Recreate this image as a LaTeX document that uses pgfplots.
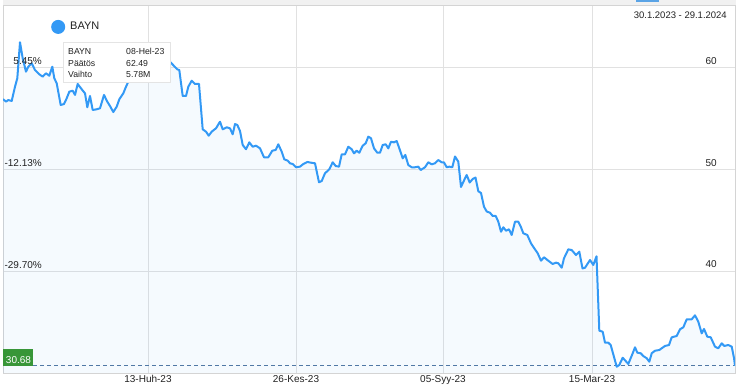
\documentclass[border=0pt]{standalone}
\usepackage{fontspec}
\setmainfont{Liberation Sans}
\usepackage{pgfplots}
\usepackage{pgfplotstable}
\pgfplotsset{compat=1.18}
\definecolor{bline}{RGB}{51,153,245}
\definecolor{gridc}{RGB}{225,225,225}
\definecolor{bordc}{RGB}{212,212,212}
\definecolor{gbox}{RGB}{56,150,56}
\definecolor{dashc}{RGB}{80,120,165}
\definecolor{txt}{RGB}{34,34,34}
\definecolor{topstrip}{RGB}{241,241,241}
\definecolor{tab}{RGB}{91,164,230}

\pgfplotstableread{
x price
3 56.90
6 56.65
8.3 56.81
11.7 56.72
15 58.12
17.3 58.95
20 62.49
22.7 60.91
26 59.60
28.3 60.09
31.7 60.42
35 59.76
39.3 59.34
42.7 59.11
46 59.44
49.3 59.20
52.3 60.09
54.3 58.95
56.7 58.46
60.7 56.32
64 56.42
66.7 56.98
69.3 57.63
72.7 57.73
75 57.31
77.7 58.39
81.7 57.87
85 57.47
87.3 56.10
90 57.21
92.7 55.83
96.7 55.90
100 56.00
104 57.31
107.3 56.65
110 56.22
113.3 55.63
116.7 56.16
119.3 56.88
123.3 57.47
126 58.12
130 58.98
135 59.57
140 59.96
145 60.35
150 60.65
155 60.45
160 60.94
165 60.75
170 60.58
174 60.16
177.3 59.83
179.3 59.76
182.7 57.21
186 57.21
188.3 58.12
191.7 58.71
195 58.39
199 58.39
202.7 53.93
206 53.70
208.7 53.30
211.7 53.70
216 54.03
220 54.68
222.7 53.93
226.7 54.13
230 54.03
232.7 53.44
235 54.45
237.3 54.36
240 53.77
242.7 52.39
246 51.97
249.3 52.65
252.7 52.22
256 52.32
260 52.06
264 51.18
268.3 51.18
272.3 51.83
275.7 51.90
278.3 52.46
281.7 51.73
284.3 50.98
287.7 50.85
290 50.59
292.7 50.52
296 50.20
300 50.26
303.3 50.52
307.3 50.72
311 50.65
315 50.59
319 48.72
321.7 48.85
325 49.61
329.3 50.00
332.7 50.69
335.7 50.32
339 50.26
341.7 51.47
345 51.47
348.3 52.22
351.7 51.97
354 51.57
356.7 51.83
359.3 51.63
362.7 52.32
365.7 52.56
368.3 53.21
371 53.05
374 52.06
377.3 51.63
380 51.63
382.7 52.39
385.7 52.46
388.3 52.06
391 52.71
394 52.65
396.7 52.78
399.3 52.06
402.7 51.08
405.3 51.41
408.3 50.42
411.7 50.20
415 50.20
418.3 50.26
420.7 49.93
425 50.20
428.3 50.69
431.7 50.49
435 50.59
438.3 50.91
441.7 50.69
444 50.67
446.7 50.20
449.3 50.26
452.3 50.20
455 51.26
458.3 50.75
461 48.26
464 48.90
466.7 49.44
469.7 48.70
472.7 49.05
475.5 49.19
478.3 47.84
481 47.67
484 46.32
486.7 45.85
490 45.73
492.7 45.41
495.7 45.41
498.3 44.85
501 43.86
503.3 44.30
506 43.96
509 44.10
511.7 43.54
515 44.85
518.3 44.85
521 44.30
523.3 43.71
527.3 43.54
531 42.72
534.3 42.23
537.7 41.74
541 41.01
544 41.35
548.3 41.01
552.7 40.69
556 40.82
558.3 40.76
561.7 40.32
564 41.25
568.3 42.13
571.7 42.06
576 41.57
579.3 41.90
582.5 40.25
585 40.32
590 41.08
593.3 40.59
596.5 41.45
599.3 34.13
602.7 34.03
605 32.95
608.3 32.95
610.7 32.72
616.7 30.59
619.3 30.76
622.7 31.47
628.3 30.86
632.7 31.91
635 32.50
637.3 31.97
640.7 31.91
643.3 31.64
646.7 31.42
649.3 31.08
651.7 31.91
655 32.16
659.3 32.23
661.7 32.40
665 32.63
669 32.72
671.7 33.48
676.7 33.61
680 34.27
683.3 34.46
686.7 35.25
691.7 35.25
695 35.64
698.3 35.01
701.7 33.87
704 34.30
707.3 33.54
710.7 33.48
715 32.56
718.3 32.40
721.7 32.89
724.3 32.63
728.3 32.72
731.7 32.56
734 31.45
735 30.68
}\bayn

\begin{document}
\begin{tikzpicture}
\useasboundingbox (-3bp,-17bp) rectangle (736bp,373bp);
\begin{axis}[at={(0,0)}, anchor=south west, scale only axis,
  width=732bp, height=368bp,
  xmin=3, xmax=735, ymin=29.97, ymax=66.155,
  xtick={148,296,443,592},
  xticklabels={13-Huh-23,26-Kes-23,05-Syy-23,15-Mar-23},
  ytick={40,50,60}, yticklabel pos=right,
  major tick length=0pt,
  grid=major, grid style={gridc, line width=0.8bp},
  axis line style={bordc, line width=0.8bp},
  ticklabel style={font=\fontsize{10bp}{12bp}\selectfont, text=txt, inner sep=0pt},
  xticklabel style={anchor=base, yshift=-10bp},
  yticklabel style={anchor=base east, xshift=-18bp, yshift=3bp},
  /pgf/number format/assume math mode=true,
  legend style={at={(axis cs:51,64)}, anchor=west, draw=none, fill=none,
    inner sep=0pt, nodes={inner sep=0pt},
    font=\fontsize{11bp}{13bp}\selectfont, text=txt,
    /tikz/every odd column/.append style={column sep=5bp}},
  legend image code/.code={\fill[bline] (6bp,0bp) circle (6bp);},
]
\addplot[draw=none, fill=bline, fill opacity=0.05, forget plot] table[x=x,y=price] {\bayn} \closedcycle;
\addplot[dashc, dash pattern=on 4bp off 3bp, line width=0.9bp, forget plot] coordinates {(33,30.68) (735,30.68)};
\addplot[bline, line width=2bp, line join=round] table[x=x,y=price] {\bayn};
\addlegendentry{BAYN}
\end{axis}
\begin{scope}[x=1bp, y=-1bp, shift={(-3,-373)}]
  \fill[topstrip] (3,0) rectangle (736,4.6);
  \fill[tab] (636,0) rectangle (659,2);
  \node[anchor=base east, inner sep=0pt, text=txt, font=\fontsize{9.5bp}{11bp}\selectfont] at (727,18.5) {30.1.2023 - 29.1.2024};
  \begin{scope}[every node/.style={anchor=base east, inner sep=0pt, text=txt, font=\fontsize{10bp}{12bp}\selectfont}]
    \node at (42,64) {5.45\%};
    \node at (42,166) {-12.13\%};
    \node at (42,268) {-29.70\%};
  \end{scope}
  \draw[draw={rgb,255:red,228;green,228;blue,228}, fill=white, line width=0.8bp] (63,42) rectangle (170,82);
  \begin{scope}[every node/.style={anchor=base west, inner sep=0pt, text=txt, font=\fontsize{8.7bp}{10bp}\selectfont}]
    \node at (68,54.3) {BAYN};
    \node at (126,54.3) {08-Hel-23};
    \node at (68,66) {Päätös};
    \node at (126,66) {62.49};
    \node at (68,77.7) {Vaihto};
    \node at (126,77.7) {5.78M};
  \end{scope}
  \fill[gbox] (3,349) rectangle (33,366);
  \node[anchor=base, inner sep=0pt, text=white, font=\fontsize{10bp}{12bp}\selectfont] at (18.5,363) {30.68};
\end{scope}
\end{tikzpicture}
\end{document}
